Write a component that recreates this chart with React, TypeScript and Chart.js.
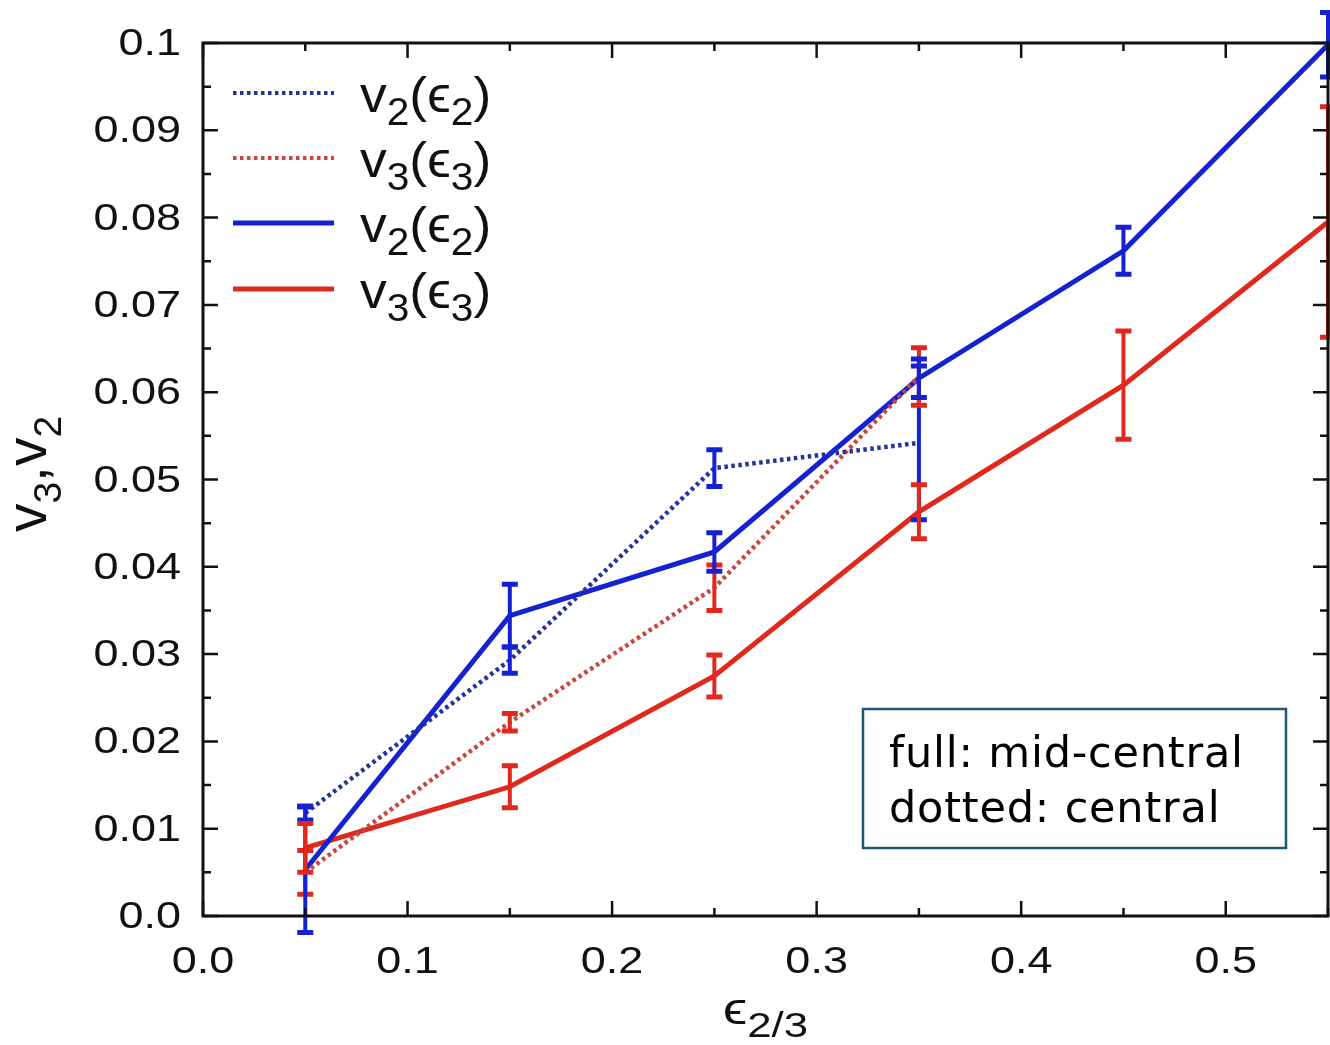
import React, { useEffect, useRef } from "react";
import { Chart, registerables } from "chart.js";
Chart.register(...registerables);

// ---- data ----
const xCentral = [0.05, 0.15, 0.25, 0.35];
const xMid = [0.05, 0.15, 0.25, 0.35, 0.45, 0.55];

const v2Central = [0.0118, 0.0293, 0.0513, 0.0542];
const v2CentralErr = [0.0008, 0.0015, 0.0021, 0.0088];
const v3Central = [0.005, 0.0222, 0.0376, 0.0618];
const v3CentralErr = [0.0025, 0.001, 0.0026, 0.0033];

const v2Mid = [0.0053, 0.0344, 0.0417, 0.0616, 0.0762, 0.0998];
const v2MidErr = [0.0072, 0.0036, 0.0022, 0.0022, 0.0027, 0.0037];
const v3Mid = [0.0078, 0.0148, 0.0275, 0.0463, 0.0608, 0.0795];
const v3MidErr = [0.0028, 0.0024, 0.0024, 0.0031, 0.0062, 0.0132];

const xTicks = [0, 0.1, 0.2, 0.3, 0.4, 0.5];
const xTickLabels = ["0.0", "0.1", "0.2", "0.3", "0.4", "0.5"];
const yTicks = [0, 0.01, 0.02, 0.03, 0.04, 0.05, 0.06, 0.07, 0.08, 0.09, 0.1];
const yTickLabels = ["0.0", "0.01", "0.02", "0.03", "0.04", "0.05", "0.06", "0.07", "0.08", "0.09", "0.1"];

const BLUE = "#1422d2";
const RED = "#e0281c";
const BLUE_DOT = "#23349f";
const RED_DOT = "#c9463e";

const TICK_FONT = "'Liberation Sans', 'DejaVu Sans', sans-serif";
const STRETCH = 1.25;

type Part = { t: string; sub?: boolean };

function drawRich(ctx: CanvasRenderingContext2D, x: number, y: number, parts: Part[], mainSize: number, subSize: number, subShift: number, sx = 1) {
  ctx.save();
  ctx.translate(x, y);
  ctx.scale(sx, 1);
  let cx = 0;
  for (const p of parts) {
    ctx.font = `${p.sub ? subSize : mainSize}px ${TICK_FONT}`;
    ctx.fillText(p.t, cx, p.sub ? subShift : 0);
    cx += ctx.measureText(p.t).width;
  }
  ctx.restore();
  return cx * sx;
}
function richWidth(ctx: CanvasRenderingContext2D, parts: Part[], mainSize: number, subSize: number, sx = 1) {
  let w = 0;
  for (const p of parts) {
    ctx.font = `${p.sub ? subSize : mainSize}px ${TICK_FONT}`;
    w += ctx.measureText(p.t).width;
  }
  return w * sx;
}

const errorSets = [
  { xs: xCentral, ys: v2Central, es: v2CentralErr, color: BLUE },
  { xs: xCentral, ys: v3Central, es: v3CentralErr, color: RED },
  { xs: xMid, ys: v2Mid, es: v2MidErr, color: BLUE },
  { xs: xMid, ys: v3Mid, es: v3MidErr, color: RED },
];

const decorPlugin = {
  id: "decor",
  afterDatasetsDraw(chart: any) {
    const ctx: CanvasRenderingContext2D = chart.ctx;
    const xs = chart.scales.x;
    const ys = chart.scales.y;
    ctx.save();
    for (const s of errorSets) {
      ctx.strokeStyle = s.color;
      ctx.lineCap = "butt";
      for (let i = 0; i < s.xs.length; i++) {
        const px = xs.getPixelForValue(s.xs[i]);
        const top = ys.getPixelForValue(s.ys[i] + s.es[i]);
        const bot = ys.getPixelForValue(s.ys[i] - s.es[i]);
        ctx.lineWidth = 4;
        ctx.beginPath();
        ctx.moveTo(px, top);
        ctx.lineTo(px, bot);
        ctx.stroke();
        ctx.lineWidth = 5;
        ctx.beginPath();
        ctx.moveTo(px - 8, top);
        ctx.lineTo(px + 8, top);
        ctx.moveTo(px - 8, bot);
        ctx.lineTo(px + 8, bot);
        ctx.stroke();
      }
    }
    ctx.restore();
  },
  afterDraw(chart: any) {
    const ctx: CanvasRenderingContext2D = chart.ctx;
    const a = chart.chartArea;
    const xs = chart.scales.x;
    const ys = chart.scales.y;
    ctx.save();
    // frame
    ctx.strokeStyle = "#111";
    ctx.lineWidth = 3;
    ctx.strokeRect(a.left, a.top, a.right - a.left, a.bottom - a.top);
    // ticks
    ctx.lineWidth = 2.5;
    ctx.beginPath();
    for (let k = 0; k <= 11; k++) {
      const v = k * 0.05;
      const px = xs.getPixelForValue(v);
      const len = k % 2 === 0 ? 15 : 8;
      ctx.moveTo(px, a.bottom);
      ctx.lineTo(px, a.bottom - len);
      ctx.moveTo(px, a.top);
      ctx.lineTo(px, a.top + len);
    }
    for (let k = 0; k <= 20; k++) {
      const v = k * 0.005;
      const py = ys.getPixelForValue(v);
      const len = k % 2 === 0 ? 15 : 8;
      ctx.moveTo(a.left, py);
      ctx.lineTo(a.left + len, py);
      ctx.moveTo(a.right, py);
      ctx.lineTo(a.right - len, py);
    }
    ctx.stroke();

    // tick labels (stretched like the original)
    ctx.fillStyle = "#111";
    ctx.textBaseline = "alphabetic";
    ctx.font = `36px ${TICK_FONT}`;
    yTicks.forEach((v, i) => {
      const py = ys.getPixelForValue(v);
      ctx.save();
      ctx.translate(a.left - 22, py + 12);
      ctx.scale(STRETCH, 1);
      ctx.textAlign = "right";
      ctx.fillText(yTickLabels[i], 0, 0);
      ctx.restore();
    });
    xTicks.forEach((v, i) => {
      const px = xs.getPixelForValue(v);
      ctx.save();
      ctx.translate(px, 973);
      ctx.scale(STRETCH, 1);
      ctx.textAlign = "center";
      ctx.fillText(xTickLabels[i], 0, 0);
      ctx.restore();
    });
    ctx.textAlign = "left";

    // legend
    const rows = [
      { color: BLUE_DOT, dash: [3.5, 3.5], w: 4, parts: [{ t: "v" }, { t: "2", sub: true }, { t: "(" }, { t: "ϵ" }, { t: "2", sub: true }, { t: ")" }] },
      { color: RED_DOT, dash: [3.5, 3.5], w: 4, parts: [{ t: "v" }, { t: "3", sub: true }, { t: "(" }, { t: "ϵ" }, { t: "3", sub: true }, { t: ")" }] },
      { color: BLUE, dash: [], w: 5, parts: [{ t: "v" }, { t: "2", sub: true }, { t: "(" }, { t: "ϵ" }, { t: "2", sub: true }, { t: ")" }] },
      { color: RED, dash: [], w: 5, parts: [{ t: "v" }, { t: "3", sub: true }, { t: "(" }, { t: "ϵ" }, { t: "3", sub: true }, { t: ")" }] },
    ];
    const rowY = [93, 158, 223, 289];
    rows.forEach((r, i) => {
      const y = rowY[i];
      ctx.strokeStyle = r.color;
      ctx.lineWidth = r.w;
      ctx.setLineDash(r.dash);
      ctx.beginPath();
      ctx.moveTo(233, y);
      ctx.lineTo(334, y);
      ctx.stroke();
      ctx.setLineDash([]);
      ctx.fillStyle = "#111";
      drawRich(ctx, 360, y + 19, r.parts, 50, 38, 13, 1.07);
    });

    // y title (rotated)
    const yParts: Part[] = [{ t: "v" }, { t: "3", sub: true }, { t: "," }, { t: "v" }, { t: "2", sub: true }];
    ctx.save();
    ctx.translate(46, 474);
    ctx.rotate(-Math.PI / 2);
    ctx.fillStyle = "#111";
    const yw = richWidth(ctx, yParts, 57, 39);
    drawRich(ctx, -yw / 2, 0, yParts, 57, 39, 15);
    ctx.restore();

    // x title
    const xParts: Part[] = [{ t: "ϵ" }, { t: "2/3", sub: true }];
    const xw = richWidth(ctx, xParts, 44, 35, STRETCH);
    const cx = (a.left + a.right) / 2;
    ctx.fillStyle = "#111";
    drawRich(ctx, cx - xw / 2, 1024, xParts, 44, 35, 13, STRETCH);

    // annotation box
    ctx.fillStyle = "#fff";
    ctx.fillRect(863, 709, 423, 139);
    ctx.strokeStyle = "#1d5873";
    ctx.lineWidth = 2.5;
    ctx.strokeRect(863, 709, 423, 139);
    ctx.fillStyle = "#000";
    ctx.font = "43px 'DejaVu Sans', sans-serif";
    (ctx as any).letterSpacing = "0.8px";
    ctx.fillText("full: mid-central", 889, 767);
    ctx.fillText("dotted: central", 889, 822);
    (ctx as any).letterSpacing = "0px";
    ctx.restore();
  },
};

export default function App() {
  const ref = useRef<HTMLCanvasElement | null>(null);
  useEffect(() => {
    const canvas = ref.current!;
    const pts = (xsArr: number[], ysArr: number[]) => xsArr.map((x, i) => ({ x, y: ysArr[i] }));
    const chart = new Chart(canvas, {
      type: "line",
      data: {
        datasets: [
          { label: "v2(e2) central", data: pts(xCentral, v2Central), borderColor: BLUE_DOT, borderWidth: 4.5, borderDash: [3.5, 3.5], pointRadius: 0, fill: false, tension: 0, clip: false as any },
          { label: "v3(e3) central", data: pts(xCentral, v3Central), borderColor: RED_DOT, borderWidth: 4.5, borderDash: [3.5, 3.5], pointRadius: 0, fill: false, tension: 0, clip: false as any },
          { label: "v2(e2) mid", data: pts(xMid, v2Mid), borderColor: BLUE, borderWidth: 5, pointRadius: 0, fill: false, tension: 0, clip: false as any },
          { label: "v3(e3) mid", data: pts(xMid, v3Mid), borderColor: RED, borderWidth: 5, pointRadius: 0, fill: false, tension: 0, clip: false as any },
        ],
      },
      options: {
        responsive: false,
        animation: false,
        events: [],
        layout: { padding: { left: 0, top: 43, right: 2, bottom: 0 } },
        plugins: { legend: { display: false }, tooltip: { enabled: false }, title: { display: false } },
        scales: {
          x: {
            type: "linear",
            min: 0,
            max: 0.55,
            grid: { display: false, drawTicks: false },
            border: { display: false },
            afterBuildTicks: (s: any) => {
              s.ticks = xTicks.map((v) => ({ value: v }));
            },
            afterFit: (s: any) => {
              s.height = 129;
            },
            ticks: { display: false },
          },
          y: {
            type: "linear",
            min: 0,
            max: 0.1,
            grid: { display: false, drawTicks: false },
            border: { display: false },
            afterBuildTicks: (s: any) => {
              s.ticks = yTicks.map((v) => ({ value: v }));
            },
            afterFit: (s: any) => {
              s.width = 203;
            },
            ticks: { display: false },
          },
        },
      },
      plugins: [decorPlugin],
    });
    return () => chart.destroy();
  }, []);
  return (
    <div style={{ position: "fixed", left: 0, top: 0, width: 1330, height: 1045, background: "#fff" }}>
      <canvas ref={ref} width={1330} height={1045} style={{ display: "block" }} />
    </div>
  );
}
